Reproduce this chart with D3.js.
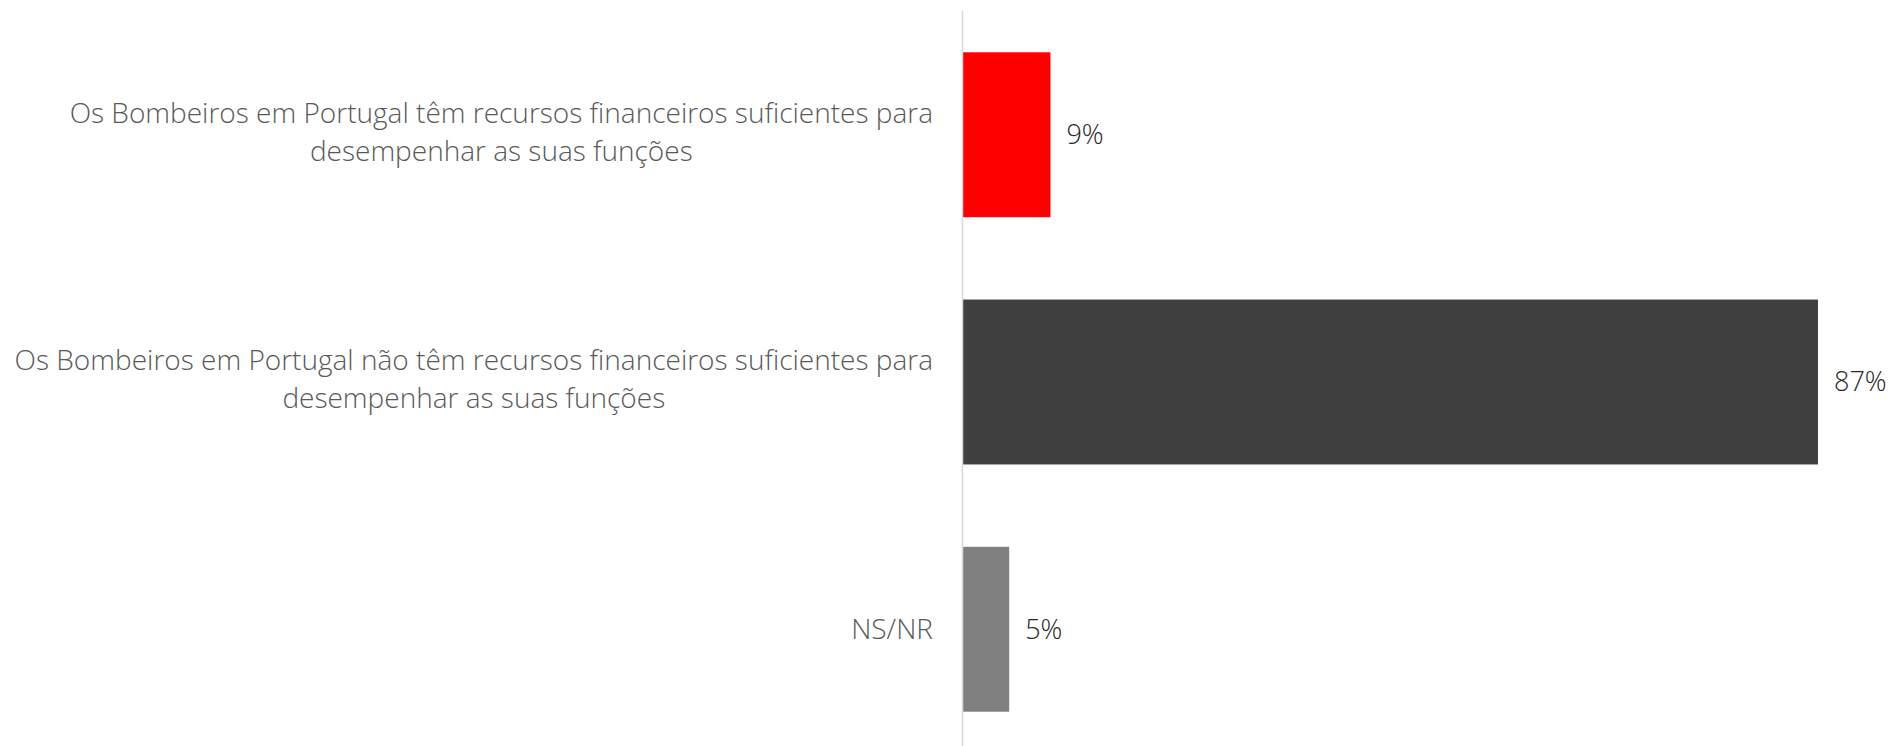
<!DOCTYPE html>
<html>
<head>
<meta charset="utf-8">
<script src="https://cdn.jsdelivr.net/npm/d3@7"></script>
<style>
  html, body { margin: 0; padding: 0; background: #fff; }
  svg { display: block; }
</style>
</head>
<body>
<script>
// chart data ------------------------------------------------------------
var categories = ["sim", "nao", "nsnr"];
var labelLines = [
  ["Os Bombeiros em Portugal têm recursos financeiros suficientes para", "desempenhar as suas funções"],
  ["Os Bombeiros em Portugal não têm recursos financeiros suficientes para", "desempenhar as suas funções"],
  ["NS/NR"]
];
var values = [8.9, 87.0, 4.7];
var valueLabels = ["9%", "87%", "5%"];
var colors = ["#ff0000", "#404040", "#808080"];

// svg size
var svgWidth = 1895;
var svgHeight = 746;
var axisX = 963;
var labelRight = 933;
var fontFam = "'Open Sans', 'Noto Sans', sans-serif";

var svg = d3.select("body")
  .append("svg")
  .attr("width", svgWidth)
  .attr("height", svgHeight);

var xScale = d3.scaleLinear()
  .domain([0, 87])
  .range([axisX, 1818]);

var yScale = d3.scaleBand()
  .domain(categories)
  .range([11, 753])
  .paddingInner(0.333)
  .paddingOuter(0.167);

// bars
svg.selectAll("rect.bar")
  .data(values)
  .enter()
  .append("rect")
  .attr("class", "bar")
  .attr("x", xScale(0))
  .attr("y", function(d, i) { return yScale(categories[i]); })
  .attr("width", function(d) { return xScale(d) - xScale(0); })
  .attr("height", yScale.bandwidth())
  .attr("fill", function(d, i) { return colors[i]; });

// vertical axis line
svg.append("line")
  .attr("x1", axisX - 0.5).attr("x2", axisX - 0.5)
  .attr("y1", 11).attr("y2", svgHeight)
  .attr("stroke", "#d9d9d9")
  .attr("stroke-width", 1.5);

// value labels
svg.selectAll("text.val")
  .data(values)
  .enter()
  .append("text")
  .attr("class", "val")
  .attr("x", function(d) { return xScale(d) + 16; })
  .attr("y", function(d, i) { return yScale(categories[i]) + yScale.bandwidth() / 2; })
  .attr("dy", "0.35em")
  .attr("font-family", fontFam)
  .attr("font-weight", 300)
  .attr("font-size", "27px")
  .attr("fill", "#262626")
  .text(function(d, i) { return valueLabels[i]; });

// category labels: lines centred on each other, widest line ends at labelRight
var lineH = 38;
var catText = svg.selectAll("text.cat")
  .data(categories)
  .enter()
  .append("text")
  .attr("class", "cat")
  .attr("text-anchor", "middle")
  .attr("font-family", fontFam)
  .attr("font-weight", 300)
  .attr("font-size", "28px")
  .attr("fill", "#595959");

catText.each(function(c, i) {
  var lines = labelLines[i];
  var cy = yScale(c) + yScale.bandwidth() / 2 - (lines.length > 1 ? 3 : 0);
  var t = d3.select(this);
  var spans = lines.map(function(ln, j) {
    return t.append("tspan")
      .attr("y", cy + (j - (lines.length - 1) / 2) * lineH)
      .attr("dy", "0.35em")
      .text(ln);
  });
  var maxW = d3.max(spans, function(s) { return s.node().getComputedTextLength(); });
  spans.forEach(function(s) { s.attr("x", labelRight - maxW / 2); });
});
</script>
</body>
</html>
